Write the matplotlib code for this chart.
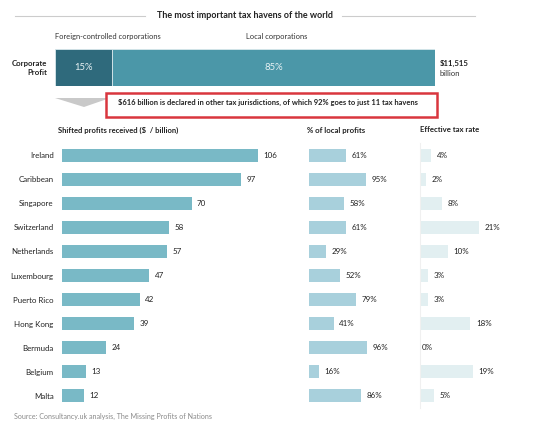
import matplotlib
matplotlib.use("Agg")
import matplotlib.pyplot as plt
from matplotlib.patches import Polygon, Rectangle
from matplotlib.lines import Line2D

plt.rcParams['font.family'] = ['Lato', 'DejaVu Sans']

countries = ["Ireland", "Caribbean", "Singapore", "Switzerland", "Netherlands",
             "Luxembourg", "Puerto Rico", "Hong Kong", "Bermuda", "Belgium", "Malta"]
shifted = [106, 97, 70, 58, 57, 47, 42, 39, 24, 13, 12]
pct_local = [61, 95, 58, 61, 29, 52, 79, 41, 96, 16, 86]
tax_rate = [4, 2, 8, 21, 10, 3, 3, 18, 0, 19, 5]
profit_parts = ["Foreign-controlled corporations", "Local corporations"]
profit_shares = [15, 85]

W, H = 550, 430
fig = plt.figure(figsize=(W / 100, H / 100), dpi=100)
fig.patch.set_facecolor("white")

def fx(x):
    return x / W

def fy(y):
    return 1 - y / H

def add_ax(x0, y0, x1, y1):
    return fig.add_axes([fx(x0), fy(y1), fx(x1) - fx(x0), fy(y0) - fy(y1)])

# Title with side rules
fig.text(fx(245), fy(16), "The most important tax havens of the world",
         ha="center", va="center", fontsize=6.5, fontweight="bold", color="#222222")
fig.add_artist(Line2D([fx(15), fx(145)], [fy(16), fy(16)], color="#cccccc", lw=0.8))
fig.add_artist(Line2D([fx(342), fx(475)], [fy(16), fy(16)], color="#cccccc", lw=0.8))

# Stacked corporate profit bar
axp = add_ax(55, 49, 435, 86)
dark, light = "#2f6a7c", "#4b97a8"
left = 0
for share, col in zip(profit_shares, [dark, light]):
    axp.barh(0, share, left=left, height=1, color=col, edgecolor="#d9e8ec", linewidth=0.6)
    axp.text(left + share / 2, 0, f"{share}%", ha="center", va="center",
             color="#e8f2f4", fontsize=6.8)
    left += share
axp.set_xlim(0, 100)
axp.set_ylim(-0.5, 0.5)
axp.axis("off")

fig.text(fx(55), fy(37), profit_parts[0], ha="left", va="center", fontsize=5.4, color="#333333")
fig.text(fx(277), fy(37), profit_parts[1], ha="center", va="center", fontsize=5.4, color="#333333")
fig.text(fx(47), fy(68), "Corporate\nProfit", ha="right", va="center", fontsize=5.6,
         fontweight="bold", color="#222222", linespacing=1.3)
fig.text(fx(440), fy(63), "$11,515", ha="left", va="center", fontsize=5.6,
         fontweight="bold", color="#222222")
fig.text(fx(440), fy(74), "billion", ha="left", va="center", fontsize=5.6, color="#333333")

# Gray arrow
fig.add_artist(Polygon([[fx(55), fy(98)], [fx(110), fy(98)], [fx(84), fy(107)]],
                       closed=True, transform=fig.transFigure, facecolor="#c9c9c9",
                       edgecolor="none"))
# Red box
fig.add_artist(Rectangle((fx(106), fy(117)), fx(437) - fx(106), fy(93) - fy(117),
                         transform=fig.transFigure, facecolor="white",
                         edgecolor="#d9363e", linewidth=1.8))
fig.text(fx(118), fy(102),
         "$616 billion is declared in other tax jurisdictions, of which 92% goes to just 11 tax havens",
         ha="left", va="center", fontsize=5.45, fontweight="bold", color="#222222")

# Headings
fig.text(fx(58), fy(130), "Shifted profits received ($  / billion)", ha="left", va="center",
         fontsize=5.5, fontweight="bold", color="#222222")
fig.text(fx(307), fy(130), "% of local profits", ha="left", va="center",
         fontsize=5.6, fontweight="bold", color="#222222")
fig.text(fx(420), fy(130), "Effective tax rate", ha="left", va="center",
         fontsize=5.6, fontweight="bold", color="#222222")

ypos = list(range(len(countries)))
row_top, row_bot = 143, 408
bh = 0.54

# Shifted profits panel
ax1 = add_ax(62, row_top, 284, row_bot)
ax1.barh(ypos, shifted, height=bh, color="#79b9c6")
for y, v in zip(ypos, shifted):
    ax1.annotate(f"{v}", (v, y), xytext=(4, 0), textcoords="offset points",
                 ha="left", va="center", fontsize=5.8, color="#222222")
ax1.set_xlim(0, 120)
ax1.set_ylim(len(countries) - 0.5, -0.5)
ax1.set_yticks(ypos)
ax1.set_yticklabels(countries, fontsize=5.7, color="#222222")
ax1.tick_params(axis="y", length=0, pad=6)
ax1.set_xticks([])
for s in ax1.spines.values():
    s.set_visible(False)

# % of local profits panel
ax2 = add_ax(309, row_top, 387, row_bot)
ax2.barh(ypos, pct_local, height=bh, color="#a8d0dc")
for y, v in zip(ypos, pct_local):
    ax2.annotate(f"{v}%", (v, y), xytext=(4, 0), textcoords="offset points",
                 ha="left", va="center", fontsize=5.8, color="#222222")
ax2.set_xlim(0, 130)
ax2.set_ylim(len(countries) - 0.5, -0.5)
ax2.set_xticks([])
ax2.set_yticks([])
for s in ax2.spines.values():
    s.set_visible(False)

# Effective tax rate panel
ax3 = add_ax(420, row_top, 532, row_bot)
ax3.barh(ypos, tax_rate, height=bh, color="#e2eff1")
for y, v in zip(ypos, tax_rate):
    ax3.annotate(f"{v}%", (v, y), xytext=(4 if v > 0 else 1, 0), textcoords="offset points",
                 ha="left", va="center", fontsize=5.8, color="#222222")
ax3.set_xlim(0, 40)
ax3.set_ylim(len(countries) - 0.5, -0.5)
ax3.set_xticks([])
ax3.set_yticks([])
for k, s in ax3.spines.items():
    if k == "left":
        s.set_color("#f0f0f0")
        s.set_linewidth(0.8)
    else:
        s.set_visible(False)

fig.text(fx(14), fy(416), "Source: Consultancy.uk analysis, The Missing Profits of Nations",
         ha="left", va="center", fontsize=5.1, color="#8a8a8a")

fig.savefig("out.png", dpi=100, facecolor="white")
